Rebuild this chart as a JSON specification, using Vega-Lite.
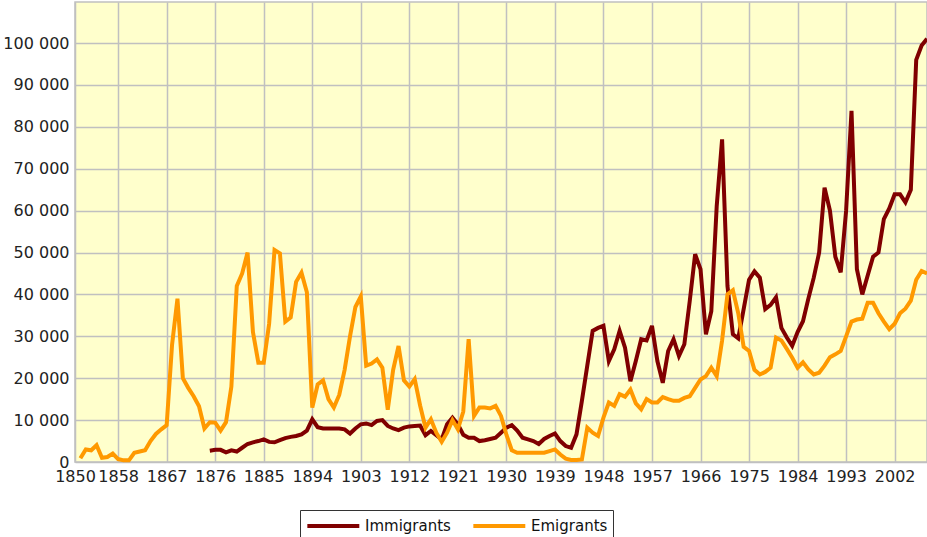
{
  "$schema": "https://vega.github.io/schema/vega-lite/v6.json",
  "width": 852,
  "height": 460,
  "autosize": "none",
  "padding": {"left": 75, "top": 2, "right": 0, "bottom": 75},
  "background": "white",
  "config": {
    "font": "DejaVu Sans",
    "view": {"fill": "#FFFFCC", "stroke": "#c0c0c0", "strokeWidth": 1.5}
  },
  "data": {
    "values": [
      {"year": 1851, "Emigrants": 900},
      {"year": 1852, "Emigrants": 3000},
      {"year": 1853, "Emigrants": 2800},
      {"year": 1854, "Emigrants": 4000},
      {"year": 1855, "Emigrants": 1000},
      {"year": 1856, "Emigrants": 1200},
      {"year": 1857, "Emigrants": 2000},
      {"year": 1858, "Emigrants": 700},
      {"year": 1859, "Emigrants": 400},
      {"year": 1860, "Emigrants": 400},
      {"year": 1861, "Emigrants": 2200},
      {"year": 1862, "Emigrants": 2500},
      {"year": 1863, "Emigrants": 2800},
      {"year": 1864, "Emigrants": 5000},
      {"year": 1865, "Emigrants": 6700},
      {"year": 1866, "Emigrants": 7800},
      {"year": 1867, "Emigrants": 8800},
      {"year": 1868, "Emigrants": 28000},
      {"year": 1869, "Emigrants": 39000},
      {"year": 1870, "Emigrants": 20000},
      {"year": 1871, "Emigrants": 17700},
      {"year": 1872, "Emigrants": 15700},
      {"year": 1873, "Emigrants": 13300},
      {"year": 1874, "Emigrants": 8000},
      {"year": 1875, "Emigrants": 9500, "Immigrants": 2700},
      {"year": 1876, "Emigrants": 9400, "Immigrants": 2900},
      {"year": 1877, "Emigrants": 7500, "Immigrants": 2900},
      {"year": 1878, "Emigrants": 9500, "Immigrants": 2300},
      {"year": 1879, "Emigrants": 18000, "Immigrants": 2800},
      {"year": 1880, "Emigrants": 42000, "Immigrants": 2500},
      {"year": 1881, "Emigrants": 45000, "Immigrants": 3400},
      {"year": 1882, "Emigrants": 50000, "Immigrants": 4300},
      {"year": 1883, "Emigrants": 31000, "Immigrants": 4700},
      {"year": 1884, "Emigrants": 23700, "Immigrants": 5000},
      {"year": 1885, "Emigrants": 23700, "Immigrants": 5400},
      {"year": 1886, "Emigrants": 33000, "Immigrants": 4800},
      {"year": 1887, "Emigrants": 50600, "Immigrants": 4700},
      {"year": 1888, "Emigrants": 49800, "Immigrants": 5200},
      {"year": 1889, "Emigrants": 33500, "Immigrants": 5700},
      {"year": 1890, "Emigrants": 34500, "Immigrants": 6000},
      {"year": 1891, "Emigrants": 43000, "Immigrants": 6200},
      {"year": 1892, "Emigrants": 45200, "Immigrants": 6600},
      {"year": 1893, "Emigrants": 40500, "Immigrants": 7500},
      {"year": 1894, "Emigrants": 13000, "Immigrants": 10200},
      {"year": 1895, "Emigrants": 18500, "Immigrants": 8300},
      {"year": 1896, "Emigrants": 19500, "Immigrants": 8000},
      {"year": 1897, "Emigrants": 15000, "Immigrants": 8000},
      {"year": 1898, "Emigrants": 13000, "Immigrants": 8000},
      {"year": 1899, "Emigrants": 16000, "Immigrants": 8000},
      {"year": 1900, "Emigrants": 22000, "Immigrants": 7800},
      {"year": 1901, "Emigrants": 30000, "Immigrants": 6800},
      {"year": 1902, "Emigrants": 37000, "Immigrants": 8000},
      {"year": 1903, "Emigrants": 39500, "Immigrants": 9000},
      {"year": 1904, "Emigrants": 23000, "Immigrants": 9200},
      {"year": 1905, "Emigrants": 23500, "Immigrants": 8800},
      {"year": 1906, "Emigrants": 24500, "Immigrants": 9800},
      {"year": 1907, "Emigrants": 22500, "Immigrants": 10000},
      {"year": 1908, "Emigrants": 12500, "Immigrants": 8600},
      {"year": 1909, "Emigrants": 22000, "Immigrants": 8000},
      {"year": 1910, "Emigrants": 27700, "Immigrants": 7600},
      {"year": 1911, "Emigrants": 19500, "Immigrants": 8200},
      {"year": 1912, "Emigrants": 18000, "Immigrants": 8500},
      {"year": 1913, "Emigrants": 19800, "Immigrants": 8600},
      {"year": 1914, "Emigrants": 13500, "Immigrants": 8700},
      {"year": 1915, "Emigrants": 8200, "Immigrants": 6400},
      {"year": 1916, "Emigrants": 10200, "Immigrants": 7400},
      {"year": 1917, "Emigrants": 7000, "Immigrants": 6400},
      {"year": 1918, "Emigrants": 4800, "Immigrants": 5400},
      {"year": 1919, "Emigrants": 7000, "Immigrants": 9000},
      {"year": 1920, "Emigrants": 10000, "Immigrants": 10600},
      {"year": 1921, "Emigrants": 7800, "Immigrants": 9000},
      {"year": 1922, "Emigrants": 12000, "Immigrants": 6500},
      {"year": 1923, "Emigrants": 29300, "Immigrants": 5800},
      {"year": 1924, "Emigrants": 11000, "Immigrants": 5800},
      {"year": 1925, "Emigrants": 13000, "Immigrants": 5000},
      {"year": 1926, "Emigrants": 13000, "Immigrants": 5200},
      {"year": 1927, "Emigrants": 12800, "Immigrants": 5500},
      {"year": 1928, "Emigrants": 13400, "Immigrants": 5800},
      {"year": 1929, "Emigrants": 11000, "Immigrants": 7000},
      {"year": 1930, "Emigrants": 6500, "Immigrants": 8200},
      {"year": 1931, "Emigrants": 2800, "Immigrants": 8800},
      {"year": 1932, "Emigrants": 2200, "Immigrants": 7500},
      {"year": 1933, "Emigrants": 2200, "Immigrants": 5800},
      {"year": 1934, "Emigrants": 2200, "Immigrants": 5400},
      {"year": 1935, "Emigrants": 2200, "Immigrants": 5000},
      {"year": 1936, "Emigrants": 2200, "Immigrants": 4300},
      {"year": 1937, "Emigrants": 2200, "Immigrants": 5500},
      {"year": 1938, "Emigrants": 2600, "Immigrants": 6200},
      {"year": 1939, "Emigrants": 3000, "Immigrants": 6800},
      {"year": 1940, "Emigrants": 1800, "Immigrants": 5000},
      {"year": 1941, "Emigrants": 800, "Immigrants": 3800},
      {"year": 1942, "Emigrants": 500, "Immigrants": 3400},
      {"year": 1943, "Emigrants": 500, "Immigrants": 6600},
      {"year": 1944, "Emigrants": 600, "Immigrants": 14600},
      {"year": 1945, "Emigrants": 8200, "Immigrants": 23000},
      {"year": 1946, "Emigrants": 7000, "Immigrants": 31300},
      {"year": 1947, "Emigrants": 6200, "Immigrants": 32000},
      {"year": 1948, "Emigrants": 10600, "Immigrants": 32500},
      {"year": 1949, "Emigrants": 14200, "Immigrants": 24100},
      {"year": 1950, "Emigrants": 13400, "Immigrants": 26900},
      {"year": 1951, "Emigrants": 16200, "Immigrants": 31300},
      {"year": 1952, "Emigrants": 15600, "Immigrants": 27300},
      {"year": 1953, "Emigrants": 17300, "Immigrants": 19300},
      {"year": 1954, "Emigrants": 14000, "Immigrants": 24100},
      {"year": 1955, "Emigrants": 12600, "Immigrants": 29300},
      {"year": 1956, "Emigrants": 15000, "Immigrants": 29000},
      {"year": 1957, "Emigrants": 14200, "Immigrants": 32500},
      {"year": 1958, "Emigrants": 14200, "Immigrants": 24100},
      {"year": 1959, "Emigrants": 15500, "Immigrants": 18900},
      {"year": 1960, "Emigrants": 15000, "Immigrants": 26500},
      {"year": 1961, "Emigrants": 14600, "Immigrants": 29300},
      {"year": 1962, "Emigrants": 14600, "Immigrants": 25300},
      {"year": 1963, "Emigrants": 15300, "Immigrants": 28100},
      {"year": 1964, "Emigrants": 15700, "Immigrants": 38400},
      {"year": 1965, "Emigrants": 17700, "Immigrants": 49600},
      {"year": 1966, "Emigrants": 19700, "Immigrants": 46000},
      {"year": 1967, "Emigrants": 20500, "Immigrants": 30500},
      {"year": 1968, "Emigrants": 22500, "Immigrants": 36000},
      {"year": 1969, "Emigrants": 20500, "Immigrants": 61000},
      {"year": 1970, "Emigrants": 29000, "Immigrants": 77000},
      {"year": 1971, "Emigrants": 40000, "Immigrants": 42000},
      {"year": 1972, "Emigrants": 41000, "Immigrants": 30500},
      {"year": 1973, "Emigrants": 35500, "Immigrants": 29500},
      {"year": 1974, "Emigrants": 27500, "Immigrants": 36500},
      {"year": 1975, "Emigrants": 26500, "Immigrants": 43500},
      {"year": 1976, "Emigrants": 22000, "Immigrants": 45500},
      {"year": 1977, "Emigrants": 20900, "Immigrants": 44000},
      {"year": 1978, "Emigrants": 21500, "Immigrants": 36500},
      {"year": 1979, "Emigrants": 22500, "Immigrants": 37500},
      {"year": 1980, "Emigrants": 29700, "Immigrants": 39300},
      {"year": 1981, "Emigrants": 29000, "Immigrants": 32000},
      {"year": 1982, "Emigrants": 27000, "Immigrants": 29700},
      {"year": 1983, "Emigrants": 24900, "Immigrants": 27700},
      {"year": 1984, "Emigrants": 22500, "Immigrants": 31000},
      {"year": 1985, "Emigrants": 23800, "Immigrants": 33600},
      {"year": 1986, "Emigrants": 22100, "Immigrants": 39000},
      {"year": 1987, "Emigrants": 20900, "Immigrants": 44000},
      {"year": 1988, "Emigrants": 21300, "Immigrants": 50000},
      {"year": 1989, "Emigrants": 23000, "Immigrants": 65500},
      {"year": 1990, "Emigrants": 25000, "Immigrants": 60000},
      {"year": 1991, "Emigrants": 25700, "Immigrants": 49000},
      {"year": 1992, "Emigrants": 26500, "Immigrants": 45300},
      {"year": 1993, "Emigrants": 30000, "Immigrants": 60000},
      {"year": 1994, "Emigrants": 33500, "Immigrants": 83800},
      {"year": 1995, "Emigrants": 34000, "Immigrants": 46000},
      {"year": 1996, "Emigrants": 34200, "Immigrants": 40000},
      {"year": 1997, "Emigrants": 38000, "Immigrants": 44500},
      {"year": 1998, "Emigrants": 38000, "Immigrants": 49000},
      {"year": 1999, "Emigrants": 35500, "Immigrants": 50000},
      {"year": 2000, "Emigrants": 33500, "Immigrants": 58000},
      {"year": 2001, "Emigrants": 31700, "Immigrants": 60500},
      {"year": 2002, "Emigrants": 33000, "Immigrants": 63900},
      {"year": 2003, "Emigrants": 35500, "Immigrants": 63900},
      {"year": 2004, "Emigrants": 36600, "Immigrants": 62000},
      {"year": 2005, "Emigrants": 38500, "Immigrants": 65000},
      {"year": 2006, "Emigrants": 43500, "Immigrants": 96000},
      {"year": 2007, "Emigrants": 45600, "Immigrants": 99400},
      {"year": 2008, "Emigrants": 45000, "Immigrants": 101000}
    ]
  },
  "transform": [
    {"fold": ["Immigrants", "Emigrants"], "as": ["series", "value"]},
    {"filter": "isValid(datum.value)"}
  ],
  "encoding": {
    "x": {
      "field": "year",
      "type": "quantitative",
      "scale": {"domain": [1850, 2008], "nice": false, "zero": false},
      "axis": {
        "title": null,
        "values": [1850, 1858, 1867, 1876, 1885, 1894, 1903, 1912, 1921, 1930, 1939, 1948, 1957, 1966, 1975, 1984, 1993, 2002],
        "format": "d",
        "labelFontSize": 16,
        "labelColor": "#222222",
        "labelPadding": 6,
        "labelOverlap": false,
        "labelFlush": false,
        "ticks": false,
        "domain": false,
        "grid": true,
        "gridColor": "#c0c0c0",
        "gridWidth": 1.5
      }
    },
    "y": {
      "field": "value",
      "type": "quantitative",
      "scale": {"domain": [0, 109800], "nice": false},
      "axis": {
        "title": null,
        "values": [0, 10000, 20000, 30000, 40000, 50000, 60000, 70000, 80000, 90000, 100000],
        "labelExpr": "replace(format(datum.value, ','), ',', ' ')",
        "labelFontSize": 16,
        "labelColor": "#222222",
        "labelPadding": 6,
        "ticks": false,
        "domain": false,
        "grid": true,
        "gridColor": "#c0c0c0",
        "gridWidth": 1.5
      }
    },
    "color": {
      "field": "series",
      "type": "nominal",
      "scale": {"domain": ["Immigrants", "Emigrants"], "range": ["#800000", "#FF9900"]},
      "legend": {
        "title": null,
        "orient": "none",
        "legendX": 225,
        "legendY": 508,
        "direction": "horizontal",
        "symbolType": "M-1,0H5",
        "symbolSize": 300,
        "symbolStrokeWidth": 4,
        "labelFontSize": 15,
        "labelColor": "#111111",
        "labelOffset": 38,
        "strokeColor": "#333333",
        "fillColor": "white",
        "padding": 5,
        "columnPadding": 14,
        "gridAlign": "all"
      }
    }
  },
  "layer": [
    {
      "transform": [{"filter": "datum.series == 'Immigrants'"}],
      "mark": {"type": "line", "strokeWidth": 4, "interpolate": "linear"}
    },
    {
      "transform": [{"filter": "datum.series == 'Emigrants'"}],
      "mark": {"type": "line", "strokeWidth": 4, "interpolate": "linear"}
    }
  ]
}
